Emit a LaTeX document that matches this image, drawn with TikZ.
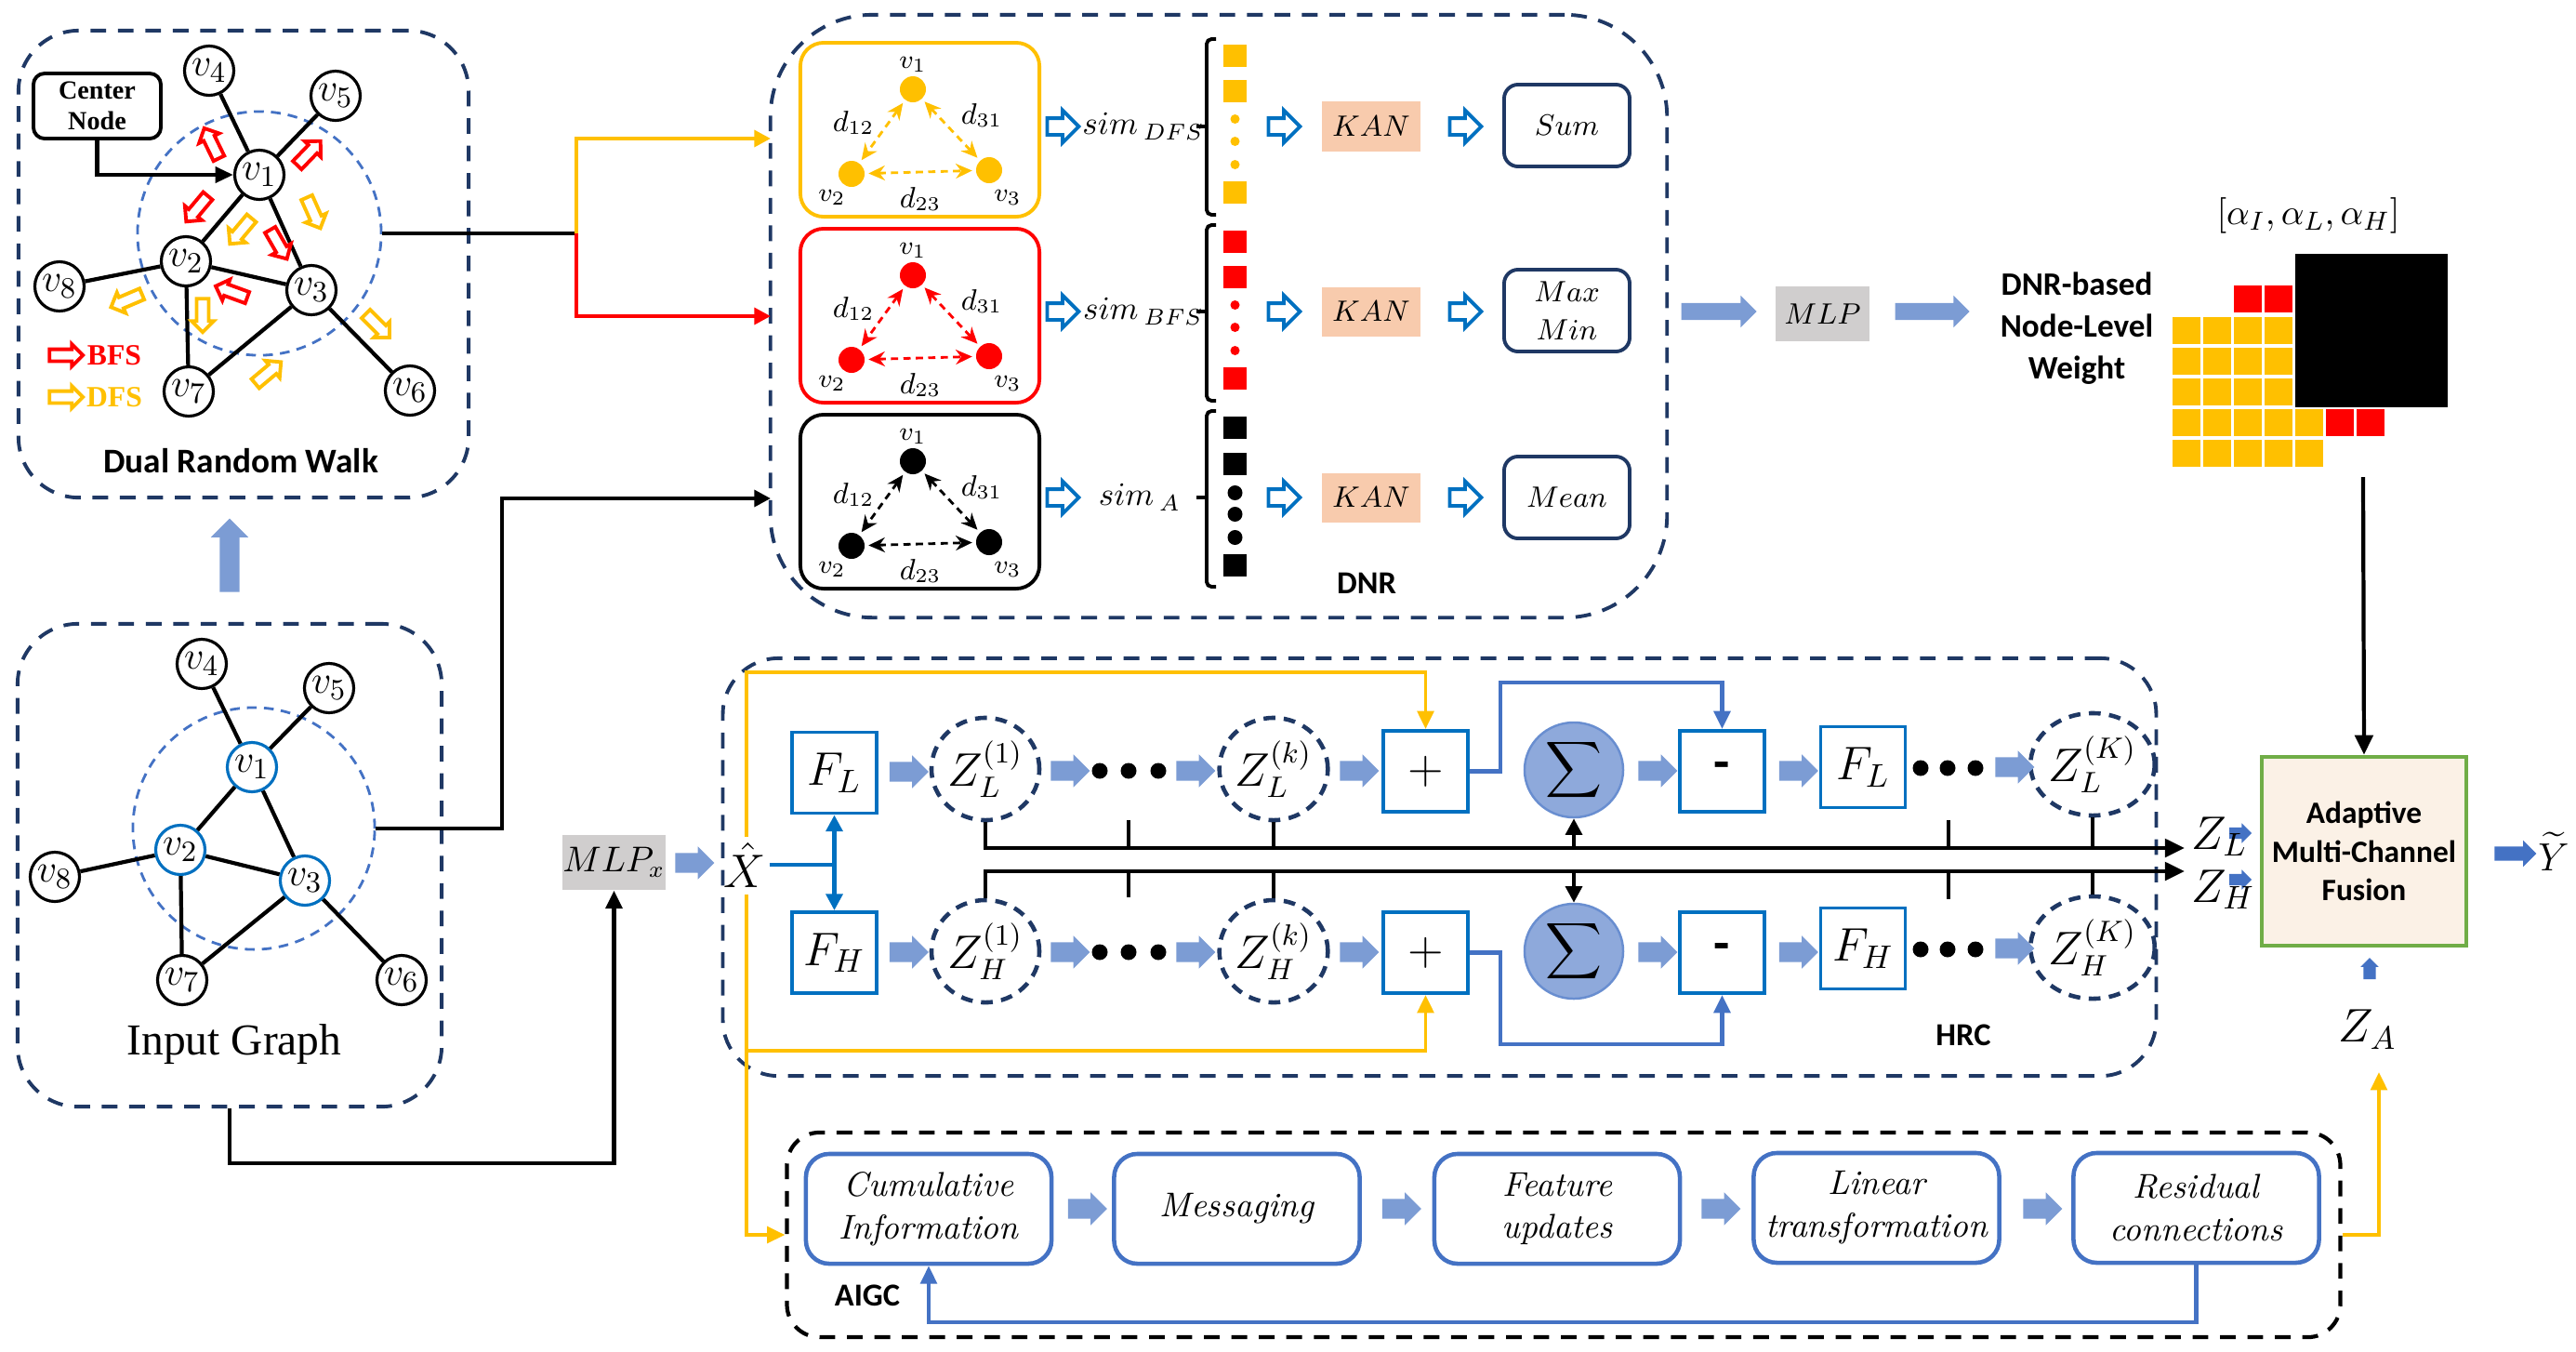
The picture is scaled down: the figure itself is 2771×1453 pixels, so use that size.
\documentclass[tikz,border=0pt]{standalone}
\usepackage{fontspec}
\usepackage{amsmath}
\usetikzlibrary{arrows.meta,shapes.arrows,shapes.geometric,calc}
\newfontfamily\carl{Carlito}
\newfontfamily\tms{Liberation Serif}
\definecolor{navy}{HTML}{1F3864}
\definecolor{dfsc}{HTML}{FFC000}
\definecolor{bfsc}{HTML}{FF0000}
\definecolor{wblue}{HTML}{7C9CD4}
\definecolor{mblue}{HTML}{4472C4}
\definecolor{sblue}{HTML}{0070C0}
\definecolor{kanc}{HTML}{F8CBAD}
\definecolor{mlpc}{HTML}{D0CECE}
\definecolor{sigc}{HTML}{8EA9DB}
\definecolor{fusc}{HTML}{FBF1E6}
\definecolor{fusg}{HTML}{70AD47}
\newcommand\fs[1]{\fontsize{#1}{#1}\selectfont}
\begin{document}
\begin{tikzpicture}[x=0.01cm,y=-0.01cm,
  gnode/.style={circle,draw,fill=white,line width=0.9pt,minimum size=0.53cm,inner sep=0pt,font=\fs{12.5}},
  gedge/.style={line width=1.2pt},
  region/.style={draw=navy,line width=1.1pt,dash pattern=on 4.8pt off 3.6pt,rectangle,inner sep=0pt},
  rwarrow/.style={single arrow,draw,fill=white,line width=1.1pt,minimum height=0.36cm,inner xsep=0pt,inner ysep=0.045cm,single arrow head extend=0.055cm},
  oarrow/.style={single arrow,draw=sblue,fill=white,line width=1.1pt,minimum height=0.34cm,inner xsep=0pt,inner ysep=0.07cm,single arrow head extend=0.085cm},
  warrow/.style={single arrow,fill=wblue,draw=none,minimum height=0.42cm,inner xsep=0pt,inner ysep=0.1cm,single arrow head extend=0.07cm},
  sarrow/.style={single arrow,fill=mblue,draw=none,minimum height=0.24cm,inner xsep=0pt,inner ysep=0.055cm,single arrow head extend=0.045cm},
  bbox/.style={rectangle,draw=sblue,line width=1.1pt,inner sep=0pt,minimum width=0.91cm,minimum height=0.87cm,font=\fs{14}},
  zell/.style={ellipse,draw=navy,line width=1.3pt,dash pattern=on 3.6pt off 2.6pt,inner sep=0pt,minimum width=1.16cm,minimum height=1.10cm,font=\fs{13.5}},
  sig/.style={ellipse,fill=sigc,draw=mblue!80,line width=0.7pt,inner sep=0pt,minimum width=1.06cm,minimum height=1.02cm,font=\fs{13}},
  dotn/.style={circle,fill=black,inner sep=0pt,minimum size=0.17cm},
  kline/.style={line width=1.2pt},
  oline/.style={dfsc,line width=1.1pt},
  mline/.style={mblue,line width=1.2pt},
  tip/.style={-{Triangle[length=5.5pt,width=5pt]}},
  agg/.style={rectangle,rounded corners=0.15cm,draw=navy,line width=1.1pt,minimum width=1.35cm,minimum height=0.88cm,inner sep=0pt,font=\fs{9}},
  kan/.style={rectangle,fill=kanc,minimum width=1.06cm,minimum height=0.53cm,inner sep=0pt,font=\fs{9.5}},
  abox/.style={rectangle,rounded corners=0.25cm,draw=mblue,line width=1.3pt,minimum width=2.64cm,minimum height=1.18cm,inner sep=0pt,align=center,font=\itshape\fontsize{10.5}{13}\selectfont},
  bold/.style={font=\carl\bfseries\fs{9.8}}
]
\useasboundingbox (0,0) rectangle (2771,1453);

% ---------- regions ----------
\node[region,rounded corners=0.65cm,minimum width=4.84cm,minimum height=5.02cm] (drw) at (262,284) {};
\node[region,rounded corners=0.65cm,minimum width=4.56cm,minimum height=5.19cm] (igbox) at (247,930.5) {};
\node[region,rounded corners=1.1cm,minimum width=9.64cm,minimum height=6.48cm] (dnr) at (1311,340) {};
\node[region,rounded corners=0.6cm,minimum width=15.41cm,minimum height=4.49cm] (hrc) at (1548.5,932.5) {};
\node[region,draw=black,line width=1.2pt,rounded corners=0.35cm,minimum width=16.70cm,minimum height=2.20cm] (aigc) at (1682,1328) {};

\node[font=\carl\bfseries\fs{10.6}] (drwt) at (259,496) {Dual Random Walk};
\node[font=\tms\fs{13.5}] (igt) at (252,1123) {Input Graph};
\node[bold] (dnrt) at (1470,627) {DNR};
\node[bold] (hrct) at (2112,1113) {HRC};
\node[bold] (aigct) at (933,1393) {AIGC};

% ---------- Dual random walk ----------
\node[circle,draw=mblue,line width=0.8pt,dash pattern=on 3pt off 2.2pt,minimum size=2.62cm] (nbr) at (279,251) {};
\node[gnode] (d1) at (279,188) {$v_1$};
\node[gnode] (d4) at (225,76) {$v_4$};
\node[gnode] (d5) at (361,103) {$v_5$};
\node[gnode] (d2) at (200,281) {$v_2$};
\node[gnode] (d3) at (335,312) {$v_3$};
\node[gnode] (d8) at (64,308) {$v_8$};
\node[gnode] (d7) at (203,421) {$v_7$};
\node[gnode] (d6) at (441,420) {$v_6$};
\draw[gedge] (d1)--(d4) (d1)--(d5) (d1)--(d2) (d1)--(d3) (d2)--(d3) (d2)--(d8) (d2)--(d7) (d3)--(d7) (d3)--(d6);
\node[draw,line width=1.1pt,rounded corners=0.12cm,minimum width=1.37cm,minimum height=0.70cm,inner sep=0pt,align=center,font=\tms\bfseries\fontsize{8}{9.4}\selectfont] (cnode) at (104.5,114) {Center\\Node};
\draw[kline,-{Triangle[length=5.5pt,width=4.8pt]}] (cnode.south) |- (d1.west);
\foreach \x/\y/\a/\col [count=\i] in {229/157/116/bfsc, 330/167/46/bfsc, 214/222/230/bfsc, 336/226/-66/dfsc, 261/246/230/dfsc, 298/260/-60/bfsc, 252/315/160/bfsc, 218/336/-90/dfsc, 139/322/203/dfsc, 404/348/-45/dfsc, 286/403/40/dfsc}
  \node[rwarrow,draw=\col,rotate=\a] (rw\i) at (\x,\y) {};
\node[rwarrow,draw=bfsc] (lgb) at (68,382) {};
\node[rwarrow,draw=dfsc] (lgd) at (68,427) {};
\node[font=\tms\bfseries\fs{9}, text=bfsc] (lgbt) at (123,382) {BFS};
\node[font=\tms\bfseries\fs{9}, text=dfsc] (lgdt) at (123,427) {DFS};

% ---------- Input graph ----------
\node[circle,draw=mblue,line width=0.8pt,dash pattern=on 3pt off 2.2pt,minimum size=2.60cm] (ign) at (273,891) {};
\node[gnode,draw=sblue] (i1) at (271,825) {$v_1$};
\node[gnode] (i4) at (217,714) {$v_4$};
\node[gnode] (i5) at (354,740) {$v_5$};
\node[gnode,draw=sblue] (i2) at (194,914) {$v_2$};
\node[gnode,draw=sblue] (i3) at (328,947) {$v_3$};
\node[gnode] (i8) at (59,943) {$v_8$};
\node[gnode] (i7) at (196,1054) {$v_7$};
\node[gnode] (i6) at (432,1054) {$v_6$};
\draw[gedge] (i1)--(i4) (i1)--(i5) (i1)--(i2) (i1)--(i3) (i2)--(i3) (i2)--(i8) (i2)--(i7) (i3)--(i7) (i3)--(i6);

\node[warrow,minimum height=0.79cm,single arrow head extend=0.095cm,rotate=90] (upa) at (247,602.5) {};

% ---------- connectors to DNR ----------
\coordinate (split) at (620,251);
\coordinate (fin) at (829,149);
\coordinate (bin) at (829,340);
\coordinate (ain) at (829,536);
\draw[kline] (nbr.east) -- (split);
\draw[bfsc,line width=1.2pt,-{Triangle[length=5pt,width=5pt]}] (split) |- (bin);
\draw[dfsc,line width=1.2pt,-{Triangle[length=5pt,width=5pt]}] (split) |- (fin);
\draw[kline,-{Triangle[length=5pt,width=5pt]}] (ign.east) -- (540,891) |- (ain);

% ---------- DNR ----------
\foreach \col/\off/\nm/\ry in {dfsc/0/f/136, bfsc/200/b/335, black/400/a/535}{
  \node[draw=\col,line width=1.1pt,rounded corners=0.25cm,minimum width=2.57cm,minimum height=1.87cm,inner sep=0pt] (\nm-box) at (989.5,{139.5+\off}) {};
  \node[circle,fill=\col,minimum size=0.28cm,inner sep=0pt] (\nm-v1) at (982,{96+\off}) {};
  \node[circle,fill=\col,minimum size=0.28cm,inner sep=0pt] (\nm-v2) at (916,{187+\off}) {};
  \node[circle,fill=\col,minimum size=0.28cm,inner sep=0pt] (\nm-v3) at (1064,{183+\off}) {};
  \draw[\col,line width=0.8pt,dash pattern=on 2.2pt off 1.6pt,{Stealth[length=5pt,width=4.5pt]}-{Stealth[length=5pt,width=4.5pt]},shorten >=1pt,shorten <=1pt] (\nm-v1) -- (\nm-v2);
  \draw[\col,line width=0.8pt,dash pattern=on 2.2pt off 1.6pt,{Stealth[length=5pt,width=4.5pt]}-{Stealth[length=5pt,width=4.5pt]},shorten >=1pt,shorten <=1pt] (\nm-v1) -- (\nm-v3);
  \draw[\col,line width=0.8pt,dash pattern=on 2.2pt off 1.6pt,{Stealth[length=5pt,width=4.5pt]}-{Stealth[length=5pt,width=4.5pt]},shorten >=1pt,shorten <=1pt] (\nm-v2) -- (\nm-v3);
  \node[font=\fs{8.5}] (\nm-l1) at (982,{69+\off}) {$v_1$};
  \node[font=\fs{8.5}] (\nm-l2) at (895,{212+\off}) {$v_2$};
  \node[font=\fs{8.5}] (\nm-l3) at (1084,{212+\off}) {$v_3$};
  \node[font=\fs{9}] (\nm-d12) at (918,{132+\off}) {$d_{12}$};
  \node[font=\fs{9}] (\nm-d31) at (1056,{124+\off}) {$d_{31}$};
  \node[font=\fs{9}] (\nm-d23) at (990,{214+\off}) {$d_{23}$};
  \node[oarrow] (\nm-o1) at (1139,\ry) {};
  \node[oarrow] (\nm-o2) at (1377,\ry) {};
  \node[oarrow] (\nm-o3) at (1572,\ry) {};
  \node[kan] (\nm-kan) at (1475,\ry) {$KAN$};
  \draw[line width=1.1pt,rounded corners=1.5pt] (1308,{42+\off}) -- (1298,{42+\off}) -- (1298,{231+\off}) -- (1308,{231+\off});
  \draw[line width=1.1pt] (1287,\ry) -- (1298,\ry);
}
\node[font=\fs{10}] (simf) at (1230,136) {$sim\,{}_{DFS}$};
\node[font=\fs{10}] (simb) at (1230,335) {$sim\,{}_{BFS}$};
\node[font=\fs{10}] (sima) at (1226,535) {$sim\,{}_{A}$};
\foreach \col/\t in {dfsc/42, bfsc/242}{
  \fill[\col] (1316,{\t+6}) rectangle ++(25,24);
  \fill[\col] (1316,{\t+44}) rectangle ++(25,24);
  \fill[\col] (1316,{\t+153}) rectangle ++(25,24);
  \foreach \dy in {86,110,135} \fill[\col] (1328.5,{\t+\dy}) circle[radius=5];
}
\fill[black] (1316,448) rectangle ++(25,24);
\fill[black] (1316,487) rectangle ++(25,24);
\fill[black] (1316,596) rectangle ++(25,24);
\foreach \dy in {530,553,578} \fill[black] (1328.5,\dy) circle[radius=8];
\node[agg] (sum) at (1685.5,135) {$Sum$};
\node[agg,align=center,font=\fontsize{9}{11.5}\selectfont] (mm) at (1685.5,334) {$Max$\\$Min$};
\node[agg] (mean) at (1685.5,535) {$Mean$};

% ---------- MLP & weights ----------
\node[warrow,minimum height=0.81cm,inner ysep=0.085cm,single arrow head extend=0.08cm] (wm1) at (1844.5,335) {};
\node[rectangle,fill=mlpc,minimum width=1.01cm,minimum height=0.59cm,inner sep=0pt,font=\fs{9.5}] (mlp) at (1960.5,337.5) {$MLP$};
\node[warrow,minimum height=0.80cm,inner ysep=0.085cm,single arrow head extend=0.08cm] (wm2) at (2074,335) {};
\node[align=center,font=\carl\bfseries\fontsize{10}{12.8}\selectfont] (nlw) at (2234,353) {DNR-based\\Node-Level\\Weight};
\node[font=\fs{11}] (alph) at (2483,232) {$[\alpha_I,\alpha_L,\alpha_H]$};
\foreach \cx in {2,3} \fill[bfsc] ({2337+33*\cx},307) rectangle ++(30,29);
\foreach \ry in {341,374,407} \foreach \cx in {0,...,3} \fill[dfsc] ({2337+33*\cx},\ry) rectangle ++(30,29);
\foreach \cx in {0,...,4} \fill[dfsc] ({2337+33*\cx},440) rectangle ++(30,29);
\foreach \cx in {5,6} \fill[bfsc] ({2337+33*\cx},440) rectangle ++(30,29);
\foreach \cx in {0,...,4} \fill[dfsc] ({2337+33*\cx},473) rectangle ++(30,29);
\fill[black] (2469,273) rectangle (2633,438);
\coordinate (wgt) at (2542,513);

% ---------- fusion ----------
\node[rectangle,fill=fusc,draw=fusg,line width=1.3pt,minimum width=2.20cm,minimum height=2.03cm,inner sep=0pt,align=center,font=\carl\bfseries\fontsize{9.5}{11.8}\selectfont] (fus) at (2543,915.5) {Adaptive\\Multi-Channel\\Fusion};
\draw[kline,-{Triangle[length=6pt,width=5.5pt]}] (wgt) -- (fus.north);
\node[sarrow] (zla) at (2407,896) {};
\node[sarrow] (zha) at (2407,946) {};
\node[single arrow,fill=mblue,draw=none,minimum height=0.45cm,inner xsep=0pt,inner ysep=0.07cm,single arrow head extend=0.065cm] (ya) at (2702,918) {};
\node[font=\fs{13}] (yt) at (2747,916) {$\widetilde{Y}$};
\node[sarrow,minimum height=0.23cm,inner ysep=0.06cm,single arrow head extend=0.03cm,rotate=90] (zaa) at (2549,1045) {};
\node[font=\fs{14}] (za) at (2547,1107) {$Z_A$};
\node[font=\fs{14},anchor=base west,inner sep=0pt] (zl) at (2357,913) {$Z_L$};
\node[font=\fs{14},anchor=base west,inner sep=0pt] (zh) at (2357,970) {$Z_H$};

% ---------- HRC ----------
\node[rectangle,fill=mlpc,minimum width=0.99cm,minimum height=0.59cm,inner sep=0pt,font=\fs{10.5}] (mlpx) at (660.5,927.5) {$MLP_x$};
\draw[kline,-{Triangle[length=5.5pt,width=5pt]}] (igbox.south) -- ++(0,59) -| (mlpx.south);
\node[warrow] (wx) at (742,928) {};
\coordinate (ot) at (803,723);
\coordinate (ob) at (803,1130);
\node[bbox] (FL1) at (897.5,831) {$F_L$};
\node[bbox] (FH1) at (897.5,1024.5) {$F_H$};
\node[zell] (ZL1) at (1060,827) {$Z_L^{(1)}$};
\node[zell] (ZLk) at (1370,827) {$Z_L^{(k)}$};
\node[zell] (ZLK) at (2251,822) {$Z_L^{(K)}$};
\node[zell] (ZH1) at (1060,1023) {$Z_H^{(1)}$};
\node[zell] (ZHk) at (1370,1023) {$Z_H^{(k)}$};
\node[zell] (ZHK) at (2251,1019) {$Z_H^{(K)}$};
\node[bbox] (plusL) at (1533.5,829.5) {$+$};
\node[bbox] (plusH) at (1533.5,1024.5) {$+$};
\node[sig] (sigL) at (1693,828) {$\displaystyle\sum$};
\node[sig] (sigH) at (1693,1023) {$\displaystyle\sum$};
\node[bbox,font=\carl\bfseries\fs{16}] (minL) at (1852.5,829.5) {-};
\node[bbox,font=\carl\bfseries\fs{16}] (minH) at (1852.5,1024.5) {-};
\node[bbox] (FL2) at (2004,825) {$F_L$};
\node[bbox] (FH2) at (2004,1020) {$F_H$};
\foreach \x [count=\i] in {1183,1214,1246} {\node[dotn] (dl\i) at (\x,829) {}; \node[dotn] (dh\i) at (\x,1024) {};}
\foreach \x [count=\i] in {2066,2095,2125} {\node[dotn] (el\i) at (\x,826) {}; \node[dotn] (eh\i) at (\x,1021) {};}
\foreach \x/\yl/\yh [count=\i] in {972.5/830/1024, 1146/829/1024, 1281/829/1024, 1457/829/1024, 1778/829/1024, 1929.5/829/1024, 2162/825/1020}
  {\node[warrow] (wl\i) at (\x,\yl) {}; \node[warrow] (wh\i) at (\x,\yh) {};}

% orange loops
\node[font=\fs{13.5},inner sep=1pt] (xh) at (801,930) {$\hat{X}$};
\draw[oline,tip] (803,900) -- (ot) -| (plusL.north);
\draw[oline,tip] (803,962) -- (ob) -| (plusH.south);
\draw[oline,tip] (ob) |- (aigc.west);
% blue from X hat
\draw[sblue,line width=1.2pt] (xh.east) -- (xh -| FL1.south);
\draw[sblue,line width=1.2pt,{Triangle[length=5pt,width=5pt]}-{Triangle[length=5pt,width=5pt]}] (FL1.south) -- (FH1.north);
% blue loops
\draw[mline,tip] (plusL.east) -- ++(33,0) |- ($(minL.north)+(0,-50)$) -- (minL.north);
\draw[mline,tip] (plusH.east) -- ++(33,0) |- ($(minH.south)+(0,53)$) -- (minH.south);
% black buses
\coordinate (zlend) at (2350,912);
\coordinate (zhend) at (2350,937);
\draw[kline,-{Triangle[length=6pt,width=5.5pt]}] (ZL1.south) |- (zlend);
\draw[kline,-{Triangle[length=6pt,width=5.5pt]}] (ZH1.north) |- (zhend);
\draw[line width=1pt] (1214,882) -- (1214,912) (2096,882) -- (2096,912) (1214,937) -- (1214,965) (2096,937) -- (2096,967);
\draw[line width=1pt] (ZLk.south) -- (ZLk.south |- zlend) (ZLK.south) -- (ZLK.south |- zlend);
\draw[line width=1pt] (ZHk.north) -- (ZHk.north |- zhend) (ZHK.north) -- (ZHK.north |- zhend);
\draw[kline,-{Triangle[length=5pt,width=5pt]}] (sigL.south |- zlend) -- (sigL.south);
\draw[kline,-{Triangle[length=5pt,width=5pt]}] (sigH.north |- zhend) -- (sigH.north);

% ---------- AIGC ----------
\node[abox] (c1) at (999,1300) {Cumulative\\Information};
\node[abox] (c2) at (1330.5,1300) {Messaging};
\node[abox] (c3) at (1675,1300) {Feature\\updates};
\node[abox] (c4) at (2018.5,1299) {Linear\\transformation};
\node[abox] (c5) at (2362.5,1299) {Residual\\connections};
\foreach \x [count=\i] in {1164.5,1502.5,1846,2192} \node[warrow] (ca\i) at (\x,1300) {};
\draw[mline,tip] (c5.south) -- ++(0,62) -| (c1.south);
\coordinate (zat) at (2559,1153);
\draw[oline,tip] (aigc.east) -| (zat);
\end{tikzpicture}
\end{document}
